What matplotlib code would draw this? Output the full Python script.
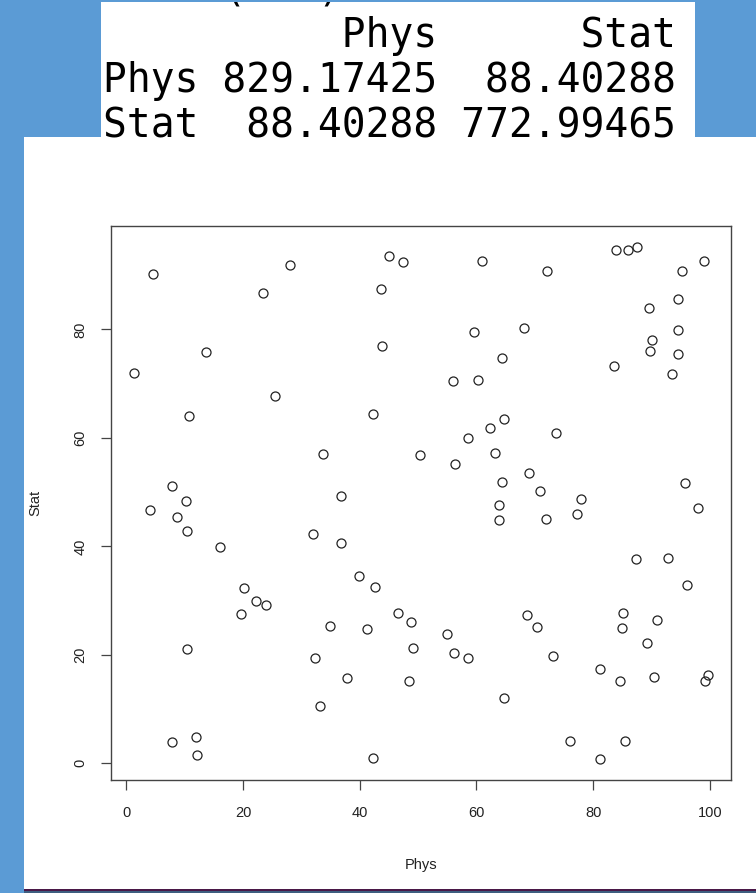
import matplotlib
matplotlib.use('Agg')
import matplotlib.pyplot as plt
from matplotlib.patches import Rectangle

plt.rcParams['font.family'] = ['Liberation Sans', 'DejaVu Sans']

# 점수 데이터
phys = [4.5, 28.1, 23.4, 45.1, 47.4, 43.7, 13.6, 1.3, 43.8, 25.5,
        10.8, 42.3, 33.7, 7.9, 10.2, 36.8, 60.9, 72.1, 83.9, 86.0,
        87.6, 99.0, 95.2, 94.6, 89.5, 94.5, 90.1, 89.8, 94.5, 93.6,
        83.6, 59.5, 68.2, 64.3, 55.9, 60.2, 64.7, 62.3, 58.6, 73.6,
        50.4, 56.3, 63.2, 69.0, 64.4, 70.9, 78.0, 95.7, 4.0, 8.7,
        10.4, 16.0, 32.0, 36.8, 39.9, 42.6, 20.1, 22.2, 23.9, 19.6,
        46.6, 48.8, 34.9, 41.2, 10.4, 32.4, 49.1, 37.8, 48.4, 33.2,
        7.9, 12.0, 12.1, 42.3, 63.8, 63.9, 71.9, 77.2, 97.9, 87.4,
        92.9, 96.1, 54.9, 56.2, 58.6, 68.7, 70.3, 73.1, 64.7, 85.2,
        85.0, 91.0, 89.3, 81.1, 84.6, 90.4, 99.7, 99.1, 76.1, 85.4,
        81.1]
stat = [90.3, 91.9, 86.7, 93.6, 92.4, 87.4, 75.9, 72.0, 77.0, 67.7,
        64.0, 64.5, 57.1, 51.1, 48.3, 49.2, 92.7, 90.7, 94.7, 94.6,
        95.3, 92.6, 90.7, 85.6, 83.9, 79.9, 78.0, 76.0, 75.4, 71.7,
        73.2, 79.6, 80.2, 74.8, 70.5, 70.7, 63.5, 61.9, 60.0, 61.0,
        56.8, 55.2, 57.2, 53.5, 51.8, 50.2, 48.8, 51.7, 46.8, 45.4,
        42.9, 39.8, 42.2, 40.7, 34.5, 32.6, 32.3, 30.0, 29.2, 27.5,
        27.7, 26.0, 25.3, 24.7, 21.0, 19.5, 21.3, 15.8, 15.2, 10.5,
        3.9, 4.9, 1.5, 1.0, 47.7, 44.9, 45.0, 45.9, 47.1, 37.7,
        37.8, 32.8, 23.8, 20.3, 19.4, 27.3, 25.1, 19.8, 12.1, 27.7,
        24.9, 26.5, 22.1, 17.4, 15.2, 15.9, 16.2, 15.1, 4.2, 4.1,
        0.7]

x_ticks = [0, 20, 40, 60, 80, 100]
y_ticks = [0, 20, 40, 60, 80]

# 콘솔 출력 (공분산 행렬)
console_lines = ['          Phys      Stat',
                 'Phys 829.17425  88.40288',
                 'Stat  88.40288 772.99465']

W, H = 756, 893
fig = plt.figure(figsize=(W / 100, H / 100), dpi=100, facecolor='#5B9BD5')


def rect(x0, y0, x1, y1, color, z=0):
    r = Rectangle((x0 / W, 1 - y1 / H), (x1 - x0) / W, (y1 - y0) / H,
                  transform=fig.transFigure, facecolor=color,
                  edgecolor='none', zorder=z)
    fig.add_artist(r)
    return r


# 아래쪽 어두운 띠
rect(24, 889, W, H, '#3E5E80', 0)
rect(24, 888.5, W, 890.5, '#4A1848', 0)
# 그래프 패널
rect(24, 137, W, 889, 'white', 0)
# 콘솔 박스
box = rect(101, 2, 695, 141, 'white', 1)

t = fig.text(103 / W, 1 - 0 / H, '> cov(dat)', family='DejaVu Sans Mono',
             fontsize=28.5, va='baseline', ha='left', zorder=2)
t.set_clip_path(box)
for i, line in enumerate(console_lines):
    fig.text(103 / W, 1 - (47 + 45 * i) / H, line, family='DejaVu Sans Mono',
             fontsize=28.5, va='baseline', ha='left', color='black', zorder=2)

ax = fig.add_axes([111 / W, 1 - 780 / H, 620 / W, 554 / H])
ax.set_facecolor('white')
ax.plot(phys, stat, 'o', markerfacecolor='none', markeredgecolor='#222222',
        markersize=6.5, markeredgewidth=0.9)
ax.margins(0.04)
ax.set_xticks(x_ticks)
ax.set_yticks(y_ticks)
for s in ax.spines.values():
    s.set_color('#444444')
    s.set_linewidth(1.0)
ax.tick_params(axis='both', length=7, width=0.9, color='#444444',
               labelsize=10.5, labelcolor='#222222')
ax.tick_params(axis='x', pad=12)
ax.tick_params(axis='y', pad=10)
for lab in ax.get_yticklabels():
    lab.set_rotation(90)
    lab.set_va('center')

ax.set_xlabel('Phys', fontsize=10.5, color='#222222', va='center')
ax.set_ylabel('Stat', fontsize=10.5, color='#222222', va='center')
ax.xaxis.set_label_coords(0.5, -(865 - 780) / 554)
ax.yaxis.set_label_coords((35 - 111) / 620, 0.5)

fig.savefig('out.png', dpi=100, facecolor=fig.get_facecolor())
